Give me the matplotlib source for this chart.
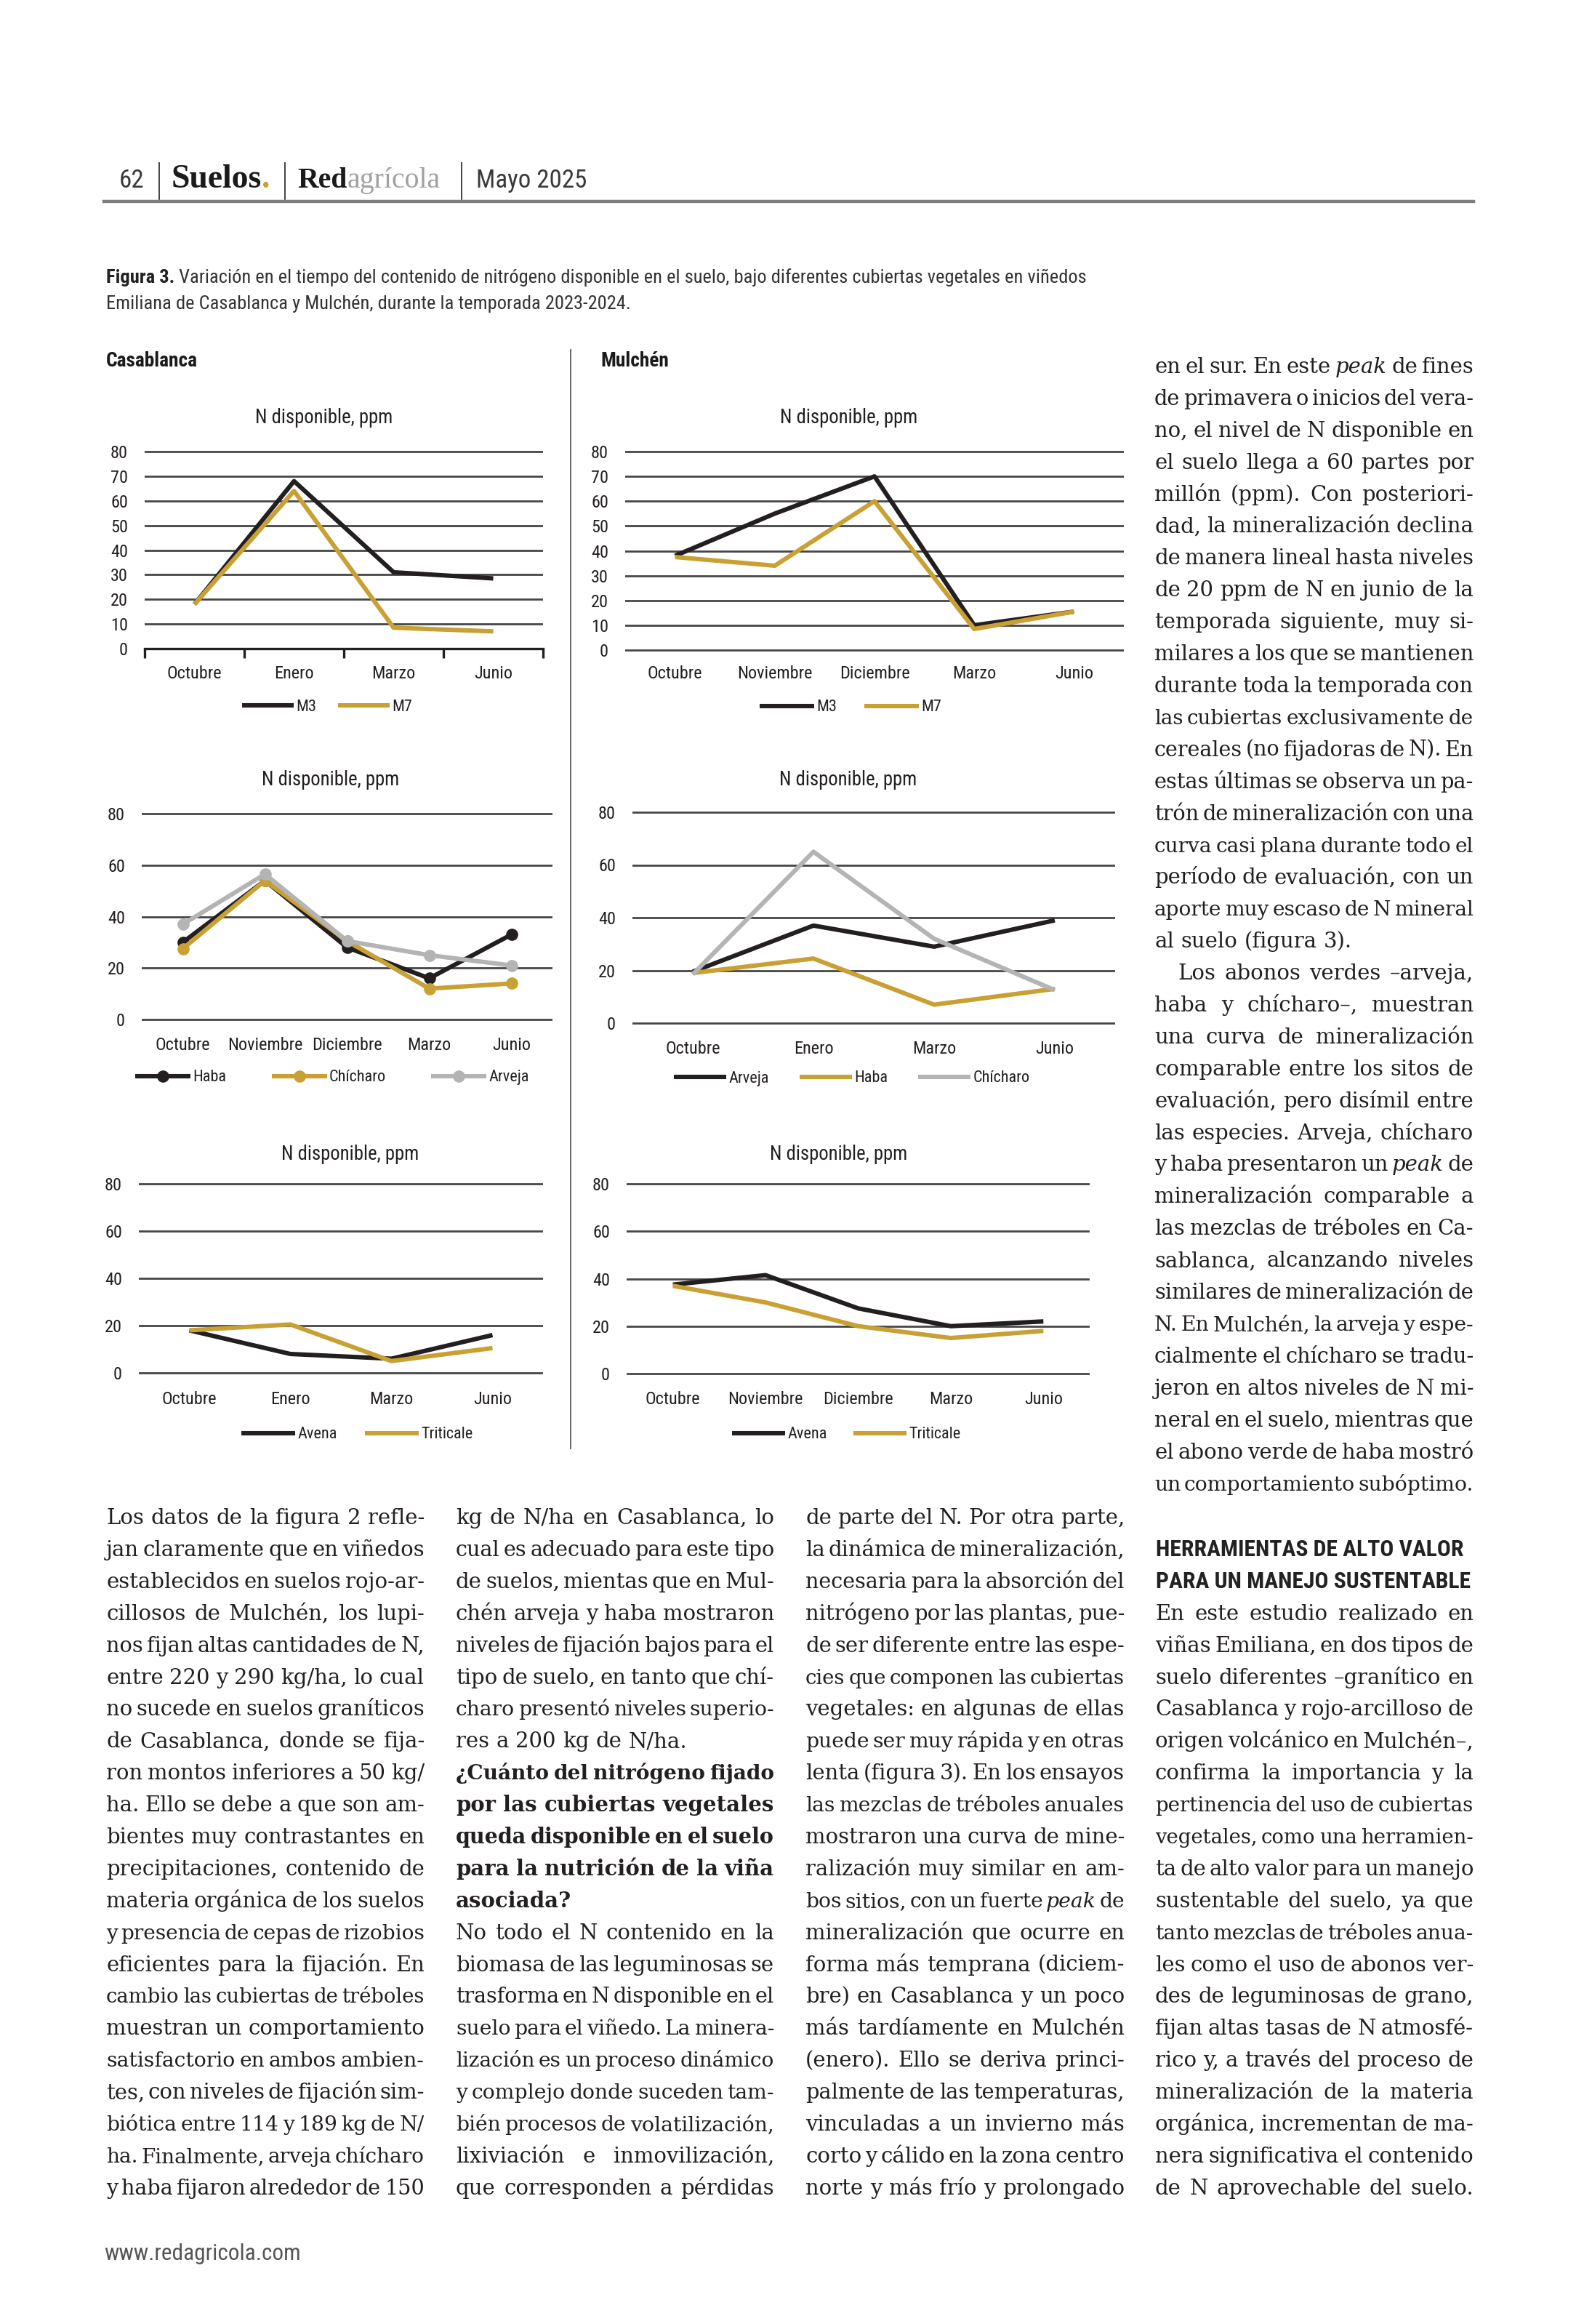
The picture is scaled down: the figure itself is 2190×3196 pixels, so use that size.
import matplotlib
matplotlib.use("Agg")
import matplotlib.pyplot as plt
import matplotlib.font_manager as fm
from matplotlib.lines import Line2D
import numpy as np

# ---------------------------------------------------------------- data
months_cb_mix = ["Octubre", "Enero", "Marzo", "Junio"]
cb_m3 = [18, 68, 31, 28.5]
cb_m7 = [18, 64, 8.5, 7]

months_mu_mix = ["Octubre", "Noviembre", "Diciembre", "Marzo", "Junio"]
mu_m3 = [38, 55, 70, 10, 15.5]
mu_m7 = [37.5, 34, 60, 8.5, 15.5]

months_cb_leg = ["Octubre", "Noviembre", "Diciembre", "Marzo", "Junio"]
cb_haba = [30, 54, 28, 16, 33]
cb_chicharo = [27.5, 54, 30.5, 12, 14]
cb_arveja = [37, 56.5, 30.5, 25, 21]

months_mu_leg = ["Octubre", "Enero", "Marzo", "Junio"]
mu_arveja = [19.5, 37, 29, 39]
mu_haba = [19, 24.5, 7, 13]
mu_chicharo = [18.5, 65, 32, 12.5]

months_cb_cer = ["Octubre", "Enero", "Marzo", "Junio"]
cb_avena = [18, 8, 6, 16]
cb_triticale = [18, 20.5, 5, 10.5]

months_mu_cer = ["Octubre", "Noviembre", "Diciembre", "Marzo", "Junio"]
mu_avena = [37.5, 41.5, 27.5, 20, 22]
mu_triticale = [37, 30, 20, 15, 18]

yticks_fine = [0, 10, 20, 30, 40, 50, 60, 70, 80]
yticks_coarse = [0, 20, 40, 60, 80]

caption_bold = "Figura 3."
caption_l1 = (" Variación en el tiempo del contenido de nitrógeno disponible en el suelo, "
              "bajo diferentes cubiertas vegetales en viñedos")
caption_l2 = "Emiliana de Casablanca y Mulchén, durante la temporada 2023-2024."

# text columns ( '¶' = last line of paragraph, '>' = indent, '§' = bold, '_x_' = italic)
col_right = [
    "en el sur. En este _peak_ de fines",
    "de primavera o inicios del vera-",
    "no, el nivel de N disponible en",
    "el suelo llega a 60 partes por",
    "millón (ppm). Con posteriori-",
    "dad, la mineralización declina",
    "de manera lineal hasta niveles",
    "de 20 ppm de N en junio de la",
    "temporada siguiente, muy si-",
    "milares a los que se mantienen",
    "durante toda la temporada con",
    "las cubiertas exclusivamente de",
    "cereales (no fijadoras de N). En",
    "estas últimas se observa un pa-",
    "trón de mineralización con una",
    "curva casi plana durante todo el",
    "período de evaluación, con un",
    "aporte muy escaso de N mineral",
    "al suelo (figura 3).¶",
    ">Los abonos verdes –arveja,",
    "haba y chícharo–, muestran",
    "una curva de mineralización",
    "comparable entre los sitos de",
    "evaluación, pero disímil entre",
    "las especies. Arveja, chícharo",
    "y haba presentaron un _peak_ de",
    "mineralización comparable a",
    "las mezclas de tréboles en Ca-",
    "sablanca, alcanzando niveles",
    "similares de mineralización de",
    "N. En Mulchén, la arveja y espe-",
    "cialmente el chícharo se tradu-",
    "jeron en altos niveles de N mi-",
    "neral en el suelo, mientras que",
    "el abono verde de haba mostró",
    "un comportamiento subóptimo.",
]
col_b1 = [
    "Los datos de la figura 2 refle-",
    "jan claramente que en viñedos",
    "establecidos en suelos rojo-ar-",
    "cillosos de Mulchén, los lupi-",
    "nos fijan altas cantidades de N,",
    "entre 220 y 290 kg/ha, lo cual",
    "no sucede en suelos graníticos",
    "de Casablanca, donde se fija-",
    "ron montos inferiores a 50 kg/",
    "ha. Ello se debe a que son am-",
    "bientes muy contrastantes en",
    "precipitaciones, contenido de",
    "materia orgánica de los suelos",
    "y presencia de cepas de rizobios",
    "eficientes para la fijación. En",
    "cambio las cubiertas de tréboles",
    "muestran un comportamiento",
    "satisfactorio en ambos ambien-",
    "tes, con niveles de fijación sim-",
    "biótica entre 114 y 189 kg de N/",
    "ha. Finalmente, arveja chícharo",
    "y haba fijaron alrededor de 150",
]
col_b2 = [
    "kg de N/ha en Casablanca, lo",
    "cual es adecuado para este tipo",
    "de suelos, mientas que en Mul-",
    "chén arveja y haba mostraron",
    "niveles de fijación bajos para el",
    "tipo de suelo, en tanto que chí-",
    "charo presentó niveles superio-",
    "res a 200 kg de N/ha.¶",
    "§¿Cuánto del nitrógeno fijado",
    "§por las cubiertas vegetales",
    "§queda disponible en el suelo",
    "§para la nutrición de la viña",
    "§asociada?¶",
    "No todo el N contenido en la",
    "biomasa de las leguminosas se",
    "trasforma en N disponible en el",
    "suelo para el viñedo. La minera-",
    "lización es un proceso dinámico",
    "y complejo donde suceden tam-",
    "bién procesos de volatilización,",
    "lixiviación e inmovilización,",
    "que corresponden a pérdidas",
]
col_b3 = [
    "de parte del N. Por otra parte,",
    "la dinámica de mineralización,",
    "necesaria para la absorción del",
    "nitrógeno por las plantas, pue-",
    "de ser diferente entre las espe-",
    "cies que componen las cubiertas",
    "vegetales: en algunas de ellas",
    "puede ser muy rápida y en otras",
    "lenta (figura 3). En los ensayos",
    "las mezclas de tréboles anuales",
    "mostraron una curva de mine-",
    "ralización muy similar en am-",
    "bos sitios, con un fuerte _peak_ de",
    "mineralización que ocurre en",
    "forma más temprana (diciem-",
    "bre) en Casablanca y un poco",
    "más tardíamente en Mulchén",
    "(enero). Ello se deriva princi-",
    "palmente de las temperaturas,",
    "vinculadas a un invierno más",
    "corto y cálido en la zona centro",
    "norte y más frío y prolongado",
]
col_b4_head = ["HERRAMIENTAS DE ALTO VALOR", "PARA UN MANEJO SUSTENTABLE"]
col_b4 = [
    "En este estudio realizado en",
    "viñas Emiliana, en dos tipos de",
    "suelo diferentes –granítico en",
    "Casablanca y rojo-arcilloso de",
    "origen volcánico en Mulchén–,",
    "confirma la importancia y la",
    "pertinencia del uso de cubiertas",
    "vegetales, como una herramien-",
    "ta de alto valor para un manejo",
    "sustentable del suelo, ya que",
    "tanto mezclas de tréboles anua-",
    "les como el uso de abonos ver-",
    "des de leguminosas de grano,",
    "fijan altas tasas de N atmosfé-",
    "rico y, a través del proceso de",
    "mineralización de la materia",
    "orgánica, incrementan de ma-",
    "nera significativa el contenido",
    "de N aprovechable del suelo.",
]

# ---------------------------------------------------------------- setup
W, H, DPI = 2190, 3196, 100
fig = plt.figure(figsize=(W / DPI, H / DPI), dpi=DPI)
fig.patch.set_facecolor("white")
R = fig.canvas.get_renderer()

TXT = "#231f20"
BLACK = "#231f20"
GOLD = "#c9a033"
GRAY = "#b4b4b4"
GRID = "#464646"

avail = {f.name for f in fm.fontManager.ttflist}


def pick(names, default):
    for n in names:
        if n in avail:
            return n
    return default


NARROW = pick(["Liberation Sans Narrow", "Roboto Condensed", "Open Sans Condensed",
               "Noto Sans", "Roboto"], "DejaVu Sans")
NSTRETCH = "normal"
if NARROW in ("Noto Sans", "Roboto"):
    for f in fm.fontManager.ttflist:
        if f.name == NARROW and "condensed" in str(f.stretch):
            NSTRETCH = "condensed"
            break
HSERIF = pick(["Liberation Serif", "DejaVu Serif"], "DejaVu Serif")
BSERIF = "DejaVu Serif"


def fp(size, family=None, weight="normal", style="normal"):
    family = family or NARROW
    stretch = NSTRETCH if family == NARROW else "normal"
    return fm.FontProperties(family=family, size=size, weight=weight, style=style,
                             stretch=stretch)


def tw(s, prop):
    w, h, d = R.get_text_width_height_descent(s, prop, ismath=False)
    return w


def fit(s, target, family=None, weight="normal"):
    return 10.0 * target / tw(s, fp(10, family, weight))


def put(x, y, s, prop, color=TXT, ha="left", va="baseline"):
    return fig.text(x / W, 1 - y / H, s, fontproperties=prop, color=color, ha=ha, va=va)


# ---------------------------------------------------------------- header
s62 = fit("62", 34)
put(164, 258, "62", fp(s62), color="#3a3a3a")
ss = fit("Suelos.", 136, HSERIF, "bold")
p = fp(ss, HSERIF, "bold")
put(236, 258, "Suelos", p, color="#1a1a1a")
put(236 + tw("Suelos", p), 258, ".", p, color=GOLD)
sr = fit("Redagrícola", 206, HSERIF, "bold")
p = fp(sr, HSERIF, "bold")
put(409, 258, "Red", p, color="#1a1a1a")
put(409 + tw("Red", p), 258, "agrícola", fp(sr, HSERIF), color="#a0a0a0")
sm = fit("Mayo 2025", 152)
put(655, 258, "Mayo 2025", fp(sm), color="#3a3a3a")
for xs in (219, 392, 635):
    fig.add_artist(Line2D([xs / W, xs / W], [1 - 224 / H, 1 - 274 / H],
                          color="#333333", lw=1.3, transform=fig.transFigure))
fig.add_artist(Line2D([143 / W, 2027 / W], [1 - 277 / H, 1 - 277 / H],
                      color="#7d7d7d", lw=3.2, transform=fig.transFigure))

# ---------------------------------------------------------------- caption
wb = tw(caption_bold, fp(10, weight="bold"))
wr = tw(caption_l1, fp(10))
cs = 10.0 * 1339 / (wb + wr)
pb = fp(cs, weight="bold")
put(146, 389, caption_bold, pb, color="#222222")
put(146 + tw(caption_bold, pb), 389, caption_l1, fp(cs), color="#333333")
put(146, 425, caption_l2, fp(cs), color="#333333")

# ---------------------------------------------------------------- charts
LOC_FS = fit("Casablanca", 126, weight="bold")
put(146, 504, "Casablanca", fp(LOC_FS, weight="bold"), color="#1a1a1a")
put(826, 504, "Mulchén", fp(LOC_FS, weight="bold"), color="#1a1a1a")
fig.add_artist(Line2D([785 / W, 785 / W], [1 - 481 / H, 1 - 1992 / H],
                      color="#5a5a5a", lw=1.3, transform=fig.transFigure))

TITLE_FS = fit("N disponible, ppm", 189)
TICK_FS = fit("Octubre", 75)
LEG_FS = fit("Triticale", 71)
LEG_PX = LEG_FS * DPI / 72.0


def chart(cats, series, labels, colors, box, yticks, title_xy, legend_xy, xlabel_y,
          markers=False, axis_ticks=False, handle_px=73, colsp_px=40):
    xl, xr, y0, ytop = box
    ymax = yticks[-1]
    ppu = (y0 - ytop) / ymax
    padu = 2.0
    bot = y0 + padu * ppu
    top = ytop - padu * ppu
    ax = fig.add_axes([xl / W, 1 - bot / H, (xr - xl) / W, (bot - top) / H])
    ax.set_facecolor("none")
    n = len(cats)
    x = np.arange(n)
    ax.set_xlim(-0.5, n - 0.5)
    ax.set_ylim(-padu, ymax + padu)
    for sp in ax.spines.values():
        sp.set_visible(False)
    if axis_ticks:
        ax.spines["bottom"].set_visible(True)
        ax.spines["bottom"].set_position(("data", 0))
        ax.spines["bottom"].set_color(BLACK)
        ax.spines["bottom"].set_linewidth(2.4)
        ref = y0
    else:
        ref = bot
    ax.set_yticks(yticks)
    ax.set_yticklabels([str(v) for v in yticks], fontproperties=fp(TICK_FS), color=TXT)
    ax.tick_params(axis="y", length=0, pad=23 * 0.72)
    ax.yaxis.grid(True, color=GRID, lw=2.0)
    ax.set_axisbelow(True)
    ax.set_xticks(x)
    ax.set_xticklabels(cats, fontproperties=fp(TICK_FS), color=TXT)
    if axis_ticks:
        ax.set_xticks(np.arange(-0.5, n, 1.0), minor=True)
        ax.tick_params(axis="x", which="minor", length=9, width=2.4, color=BLACK,
                       direction="out", bottom=True)
    w, h, d = R.get_text_width_height_descent("Octubre", fp(TICK_FS), ismath=False)
    label_top = xlabel_y - h / 2.0
    ax.tick_params(axis="x", which="major", length=0, pad=(label_top - ref) * 0.72)
    for vals, lab, c in zip(series, labels, colors):
        ax.plot(x, vals, color=c, lw=4.4, label=lab, clip_on=False,
                solid_joinstyle="round", solid_capstyle="butt",
                marker="o" if markers else None, ms=11, mec=c, mfc=c)
    put(title_xy[0], title_xy[1], "N disponible, ppm", fp(TITLE_FS), ha="center", va="center")
    ax.legend(loc="center", bbox_to_anchor=(legend_xy[0] / W, 1 - legend_xy[1] / H),
              bbox_transform=fig.transFigure, ncol=len(series), frameon=False,
              prop=fp(LEG_FS), labelcolor=TXT, handlelength=handle_px / LEG_PX,
              handletextpad=0.15, columnspacing=colsp_px / LEG_PX,
              borderpad=0, borderaxespad=0, numpoints=1)
    return ax


chart(months_cb_mix, [cb_m3, cb_m7], ["M3", "M7"], [BLACK, GOLD],
      (199, 747, 892, 621), yticks_fine, (446, 575), (450, 972), 924,
      axis_ticks=True, handle_px=71, colsp_px=30)
chart(months_mu_mix, [mu_m3, mu_m7], ["M3", "M7"], [BLACK, GOLD],
      (860, 1546, 894, 621), yticks_fine, (1168, 575), (1170, 973), 924,
      handle_px=75, colsp_px=38)
chart(months_cb_leg, [cb_haba, cb_chicharo, cb_arveja], ["Haba", "Chícharo", "Arveja"],
      [BLACK, GOLD, GRAY], (195, 760, 1402, 1119), yticks_coarse, (455, 1072), (457, 1482),
      1435, markers=True, handle_px=76, colsp_px=62)
chart(months_mu_leg, [mu_arveja, mu_haba, mu_chicharo], ["Arveja", "Haba", "Chícharo"],
      [BLACK, GOLD, GRAY], (870, 1534, 1407, 1117), yticks_coarse, (1167, 1072), (1172, 1483),
      1440, handle_px=72, colsp_px=42)
chart(months_cb_cer, [cb_avena, cb_triticale], ["Avena", "Triticale"], [BLACK, GOLD],
      (191, 747, 1888, 1628), yticks_coarse, (482, 1587), (491, 1973), 1922,
      handle_px=74, colsp_px=38)
chart(months_mu_cer, [mu_avena, mu_triticale], ["Avena", "Triticale"], [BLACK, GOLD],
      (862, 1499, 1889, 1628), yticks_coarse, (1154, 1587), (1164, 1973), 1922,
      handle_px=73, colsp_px=36)

# ---------------------------------------------------------------- body text
BODY_FS = 21.0
STEP = 43.9


def draw_line(s, x0, x1, yb, base=BODY_FS, color=TXT):
    just = True
    weight = "normal"
    indent = 0
    if s.startswith("§"):
        s = s[1:]
        weight = "bold"
    if s.startswith(">"):
        s = s[1:]
        indent = 32
    if s.endswith("¶"):
        s = s[:-1]
        just = False
    toks = s.split()
    words = [(t.strip("_"), t.startswith("_") and len(t) > 2) for t in toks]
    colw = x1 - x0 - indent
    size = base
    for _ in range(80):
        props = [fp(size, BSERIF, weight, "italic" if it else "normal") for _, it in words]
        ws = [tw(wd, pr) for (wd, _), pr in zip(words, props)]
        p0 = fp(size, BSERIF, weight)
        spw = tw("a a", p0) - tw("aa", p0)
        tot = sum(ws)
        if just and len(words) > 1:
            gap = (colw - tot) / (len(words) - 1)
            if gap < 0.5 * spw:
                size *= 0.99
                continue
        else:
            gap = spw
            if tot + gap * (len(words) - 1) > colw:
                size *= 0.99
                continue
        break
    x = x0 + indent
    for (wd, _), pr, wdt in zip(words, props, ws):
        put(x, yb, wd, pr, color=color)
        x += wdt + gap


def draw_col(lines, x0, x1, first_base, start=0):
    for i, s in enumerate(lines):
        draw_line(s, x0, x1, first_base + (start + i) * STEP)


draw_col(col_right, 1588, 2027, 513)
BOT0 = 2096
draw_col(col_b1, 146, 584, BOT0)
draw_col(col_b2, 627, 1065, BOT0)
draw_col(col_b3, 1108, 1547, BOT0)
HS = fit(col_b4_head[1], 432, weight="bold")
for i, s in enumerate(col_b4_head):
    put(1590, BOT0 + (1 + i) * STEP, s, fp(HS, weight="bold"), color="#222222")
draw_col(col_b4, 1589, 2027, BOT0, start=3)

# ---------------------------------------------------------------- footer
fs_foot = fit("www.redagricola.com", 269)
put(143, 3108, "www.redagricola.com", fp(fs_foot), color="#555555")

fig.savefig("out.png", dpi=DPI, facecolor="white")
